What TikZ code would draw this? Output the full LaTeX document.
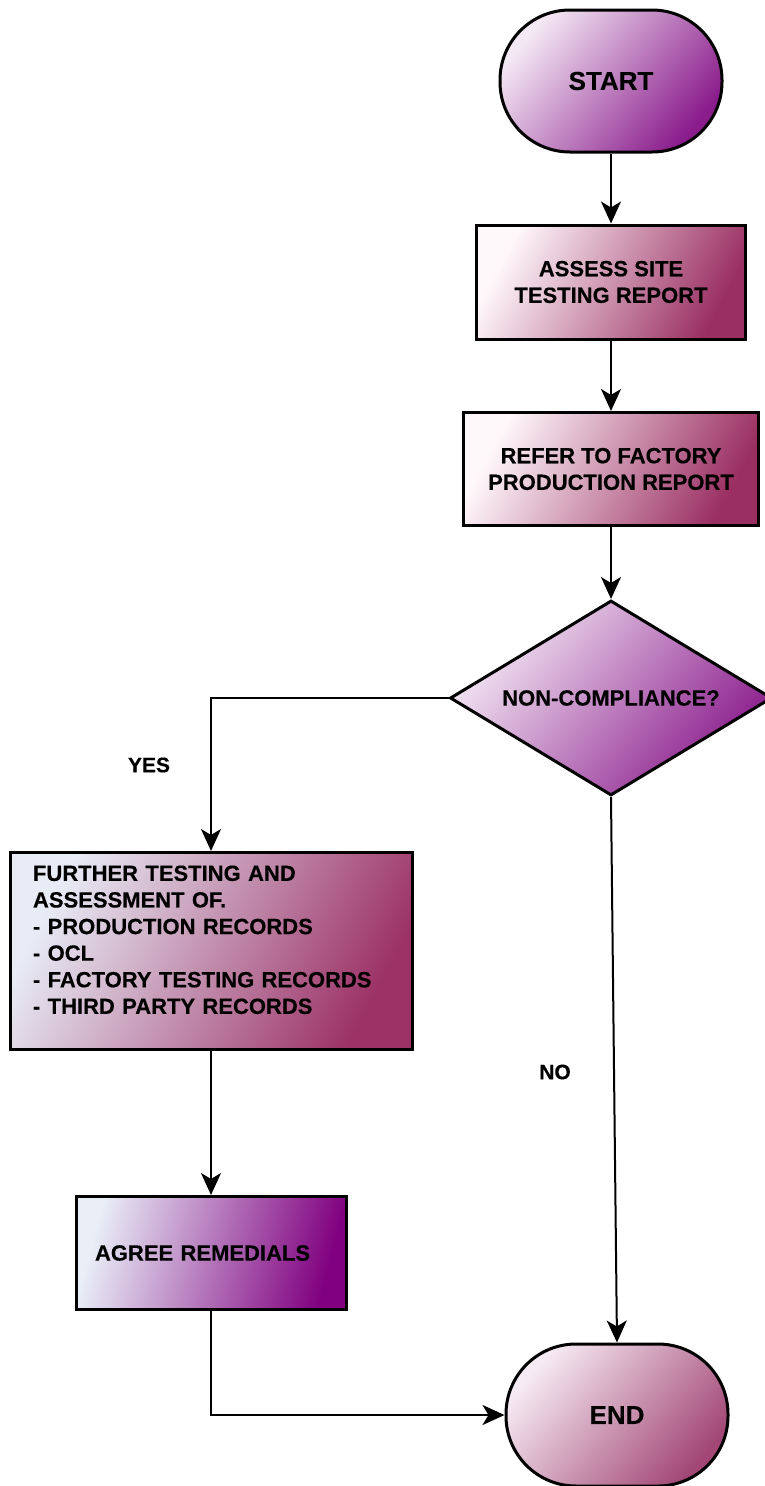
\documentclass[tikz,border=0pt]{standalone}
\usepackage{fontspec}
\setmainfont{Liberation Sans}[BoldFeatures={FakeBold=0.35}]
\usetikzlibrary{shapes.geometric,arrows.meta}
\definecolor{stL}{HTML}{F4E8F4}
\definecolor{stD}{HTML}{8A1C8C}
\definecolor{asL}{HTML}{FFF8FB}
\definecolor{asD}{HTML}{9A2F62}
\definecolor{fuL}{HTML}{E8ECF6}
\definecolor{fuD}{HTML}{9C3266}
\definecolor{agL}{HTML}{E9EEF7}
\definecolor{agD}{HTML}{80007F}
\definecolor{enL}{HTML}{F6EAF3}
\definecolor{enD}{HTML}{A24775}
\begin{document}
\begin{tikzpicture}[x=1pt,y=-1pt,
  base/.style={draw=black, line width=3pt, font=\bfseries\fontsize{22}{26.6}\selectfont, inner sep=0pt},
  term/.style={base, rectangle, rounded corners=70pt, minimum width=222pt, minimum height=142pt, font=\bfseries\fontsize{26}{30}\selectfont},
  procbox/.style={base, rectangle, align=center},
  lbl/.style={font=\bfseries\fontsize{21}{25}\selectfont, inner sep=0pt},
  arr/.style={line width=2pt, -{Stealth[length=22pt,width=20pt,inset=6pt]}}
  ]
\useasboundingbox (0,0) rectangle (765,1486);
\node[term, top color=stL, bottom color=stD, shading angle=50] (start) at (611,81) {START};
\node[procbox, minimum width=269pt, minimum height=114pt, top color=asL, bottom color=asD, shading angle=62] (assess) at (611,282) {ASSESS SITE\\TESTING REPORT};
\node[procbox, minimum width=295pt, minimum height=113pt, top color=asL, bottom color=asD, shading angle=62] (refer) at (611,469) {REFER TO FACTORY\\PRODUCTION REPORT};
\node[base, diamond, aspect=1.65, minimum width=322pt, minimum height=195pt, top color=stL, bottom color=stD, shading angle=50] (dec) at (611,698) {NON-COMPLIANCE?};
\node[base, rectangle, minimum width=402pt, minimum height=197pt, text width=356pt, align=left, top color=fuL, bottom color=fuD, shading angle=62] (further) at (211,951) {FURTHER TESTING AND\\ASSESSMENT OF.\\- PRODUCTION RECORDS\\- OCL\\- FACTORY TESTING RECORDS\\- THIRD PARTY RECORDS\\[-4pt]\mbox{}};
\node[base, rectangle, minimum width=270pt, minimum height=113pt, text width=232pt, inner xsep=19pt, align=left, top color=agL, bottom color=agD, shading angle=75] (agree) at (211,1253) {AGREE REMEDIALS};
\node[term, top color=enL, bottom color=enD, shading angle=50] (end) at (617,1415) {END};
\node[lbl] (yes) at (149,765) {YES};
\node[lbl] (no) at (555,1072) {NO};
\draw[arr] (start) -- (assess);
\draw[arr] (assess) -- (refer);
\draw[arr] (refer) -- (dec);
\draw[arr] (dec.west) -| (further.north);
\draw[arr] (further) -- (agree);
\draw[arr] (agree.south) |- (end.west);
\draw[arr] (dec.south) -- (end.north);
\end{tikzpicture}
\end{document}
